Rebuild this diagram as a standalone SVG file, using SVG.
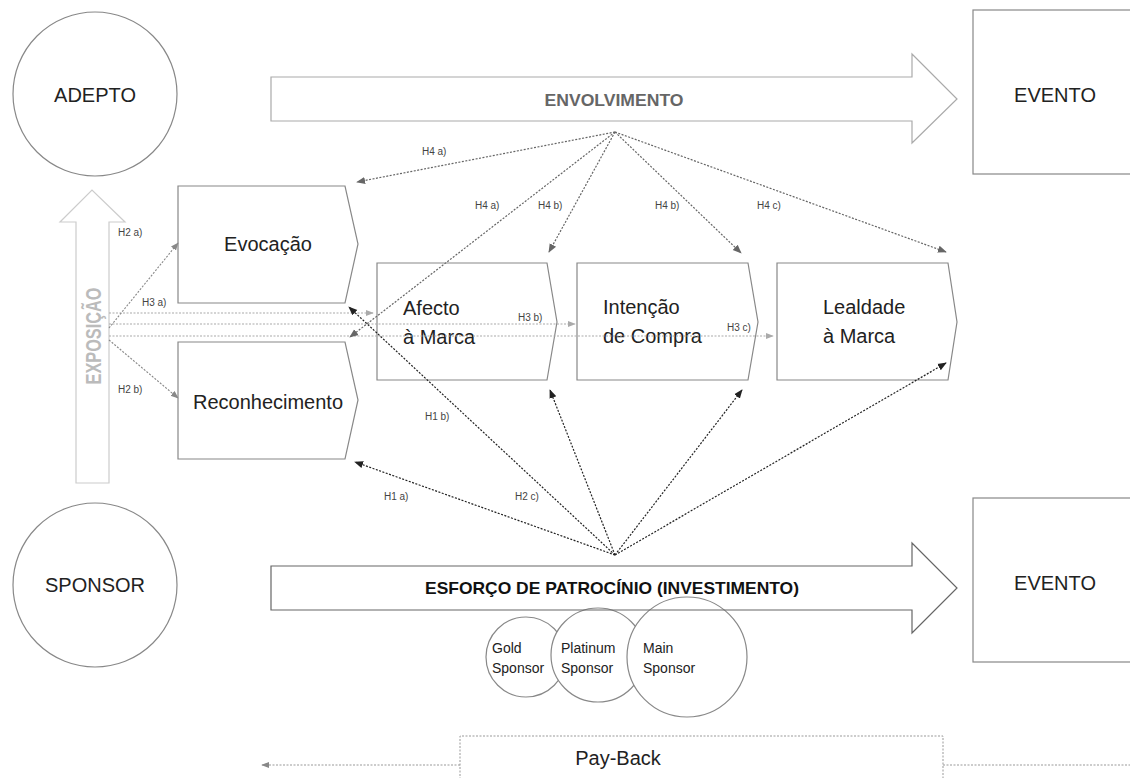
<svg xmlns="http://www.w3.org/2000/svg" width="1130" height="778" viewBox="0 0 1130 778">
<style>
text{font-family:"Liberation Sans",Arial,sans-serif;fill:#222}
.big{font-size:20px}
.lbl{font-size:10px;fill:#444}
.node{fill:#fff;stroke:#888;stroke-width:1.2}
.top{fill:none;stroke:#666;stroke-width:1.2;stroke-dasharray:2 1.5}
.bot{fill:none;stroke:#222;stroke-width:1.2;stroke-dasharray:2 1.5}
.exp{fill:none;stroke:#888;stroke-width:1.1;stroke-dasharray:2 1.5}
.h3{fill:none;stroke:#aaa;stroke-width:1.2;stroke-dasharray:2 1.5}
.pb{fill:none;stroke:#999;stroke-width:1;stroke-dasharray:2 1.5}
</style>
<defs>
<marker id="mTop" viewBox="0 0 10 10" refX="9" refY="5" markerWidth="9" markerHeight="9" markerUnits="userSpaceOnUse" orient="auto"><path d="M0,1 L10,5 L0,9 z" fill="#666"/></marker>
<marker id="mBot" viewBox="0 0 10 10" refX="9" refY="5" markerWidth="9" markerHeight="9" markerUnits="userSpaceOnUse" orient="auto"><path d="M0,1 L10,5 L0,9 z" fill="#222"/></marker>
<marker id="mExp" viewBox="0 0 10 10" refX="9" refY="5" markerWidth="8" markerHeight="8" markerUnits="userSpaceOnUse" orient="auto"><path d="M0,1 L10,5 L0,9 z" fill="#888"/></marker>
<marker id="mH3" viewBox="0 0 10 10" refX="9" refY="5" markerWidth="8" markerHeight="8" markerUnits="userSpaceOnUse" orient="auto"><path d="M0,1 L10,5 L0,9 z" fill="#aaa"/></marker>
</defs>

<g id="adepto"><circle class="node" cx="95" cy="94" r="82"/><text class="big" x="95" y="102" text-anchor="middle">ADEPTO</text></g>
<g id="sponsor"><circle class="node" cx="95" cy="585" r="82"/><text class="big" x="95" y="592" text-anchor="middle">SPONSOR</text></g>
<g id="evento-top"><rect class="node" x="973" y="10" width="170" height="164"/><text class="big" x="1055" y="102" text-anchor="middle">EVENTO</text></g>
<g id="evento-bot"><rect class="node" x="973" y="498" width="170" height="164"/><text class="big" x="1055" y="590" text-anchor="middle">EVENTO</text></g>

<g id="envolvimento"><path d="M271,77 H912 V54 L957,99 L912,143 V121 H271 Z" fill="#fff" stroke="#aaa" stroke-width="1.2"/><text x="614" y="106" text-anchor="middle" font-size="17" font-weight="bold" textLength="139" lengthAdjust="spacingAndGlyphs" style="fill:#666">ENVOLVIMENTO</text></g>
<g id="exposicao"><path d="M76,483 V222 H60 L92,190 L125,222 H109 V483 Z" fill="#fff" stroke="#ccc" stroke-width="1.2"/><text transform="translate(101,336) rotate(-90)" text-anchor="middle" font-size="22" font-weight="bold" textLength="97" lengthAdjust="spacingAndGlyphs" style="fill:#bbb">EXPOSIÇÃO</text></g>

<g id="evocacao"><path class="node" d="M178,186 H345 L358,244 L345,303 H178 Z"/><text class="big" x="268" y="251" text-anchor="middle">Evocação</text></g>
<g id="reconhecimento"><path class="node" d="M178,342 H345 L358,400 L345,459 H178 Z"/><text class="big" x="268" y="409" text-anchor="middle">Reconhecimento</text></g>
<g id="afecto"><path class="node" d="M377,263 H547 L557,322 L547,380 H377 Z"/><text class="big" x="403" y="315">Afecto</text><text class="big" x="403" y="344">à Marca</text></g>
<g id="intencao"><path class="node" d="M577,263 H748 L758,322 L748,380 H577 Z"/><text class="big" x="603" y="314">Intenção</text><text class="big" x="603" y="343">de Compra</text></g>
<g id="lealdade"><path class="node" d="M777,263 H948 L957,322 L948,380 H777 Z"/><text class="big" x="823" y="314">Lealdade</text><text class="big" x="823" y="343">à Marca</text></g>

<g id="tiers">
<circle class="node" cx="526" cy="657" r="40"/>
<circle class="node" cx="598" cy="655" r="47"/>
<circle class="node" cx="687" cy="657" r="60"/>
<text x="492" y="653" font-size="14">Gold</text><text x="492" y="673" font-size="14">Sponsor</text>
<text x="561" y="653" font-size="14">Platinum</text><text x="561" y="673" font-size="14">Sponsor</text>
<text x="643" y="653" font-size="14">Main</text><text x="643" y="673" font-size="14">Sponsor</text>
</g>
<g id="esforco"><path d="M271,566 H912 V543 L957,588 L912,633 V610 H271 Z" fill="none" stroke="#666" stroke-width="1.2"/><text x="612" y="594" text-anchor="middle" font-size="17" font-weight="bold" textLength="374" lengthAdjust="spacingAndGlyphs" style="fill:#111">ESFORÇO DE PATROCÍNIO (INVESTIMENTO)</text></g>

<g id="payback"><path class="pb" d="M460,790 V736 H943 V790"/><text class="big" x="618" y="765" text-anchor="middle">Pay-Back</text></g>

<g id="connectors">
<line class="h3" x1="109" y1="313" x2="373" y2="313" marker-end="url(#mH3)"/>
<line class="h3" x1="109" y1="324" x2="575" y2="324" marker-end="url(#mH3)"/>
<line class="h3" x1="109" y1="336" x2="773" y2="336" marker-end="url(#mH3)"/>
<line class="exp" x1="109" y1="328" x2="178" y2="243" marker-end="url(#mExp)"/>
<line class="exp" x1="109" y1="340" x2="178" y2="398" marker-end="url(#mExp)"/>

<line class="top" x1="615" y1="132" x2="357" y2="182" marker-end="url(#mTop)"/>
<line class="top" x1="615" y1="132" x2="350" y2="337" marker-end="url(#mTop)"/>
<line class="top" x1="615" y1="132" x2="549" y2="252" marker-end="url(#mTop)"/>
<line class="top" x1="615" y1="132" x2="741" y2="253" marker-end="url(#mTop)"/>
<line class="top" x1="615" y1="132" x2="946" y2="252" marker-end="url(#mTop)"/>

<line class="bot" x1="615" y1="555" x2="355" y2="462" marker-end="url(#mBot)"/>
<line class="bot" x1="615" y1="555" x2="349" y2="307" marker-end="url(#mBot)"/>
<line class="bot" x1="615" y1="555" x2="550" y2="390" marker-end="url(#mBot)"/>
<line class="bot" x1="615" y1="555" x2="742" y2="390" marker-end="url(#mBot)"/>
<line class="bot" x1="615" y1="555" x2="946" y2="363" marker-end="url(#mBot)"/>

<line class="pb" x1="460" y1="765" x2="262" y2="765" marker-end="url(#mExp)"/>
<line class="pb" x1="943" y1="765" x2="1130" y2="765"/>

<text class="lbl" x="422" y="155">H4 a)</text>
<text class="lbl" x="475" y="209">H4 a)</text>
<text class="lbl" x="538" y="209">H4 b)</text>
<text class="lbl" x="655" y="209">H4 b)</text>
<text class="lbl" x="757" y="209">H4 c)</text>
<text class="lbl" x="118" y="236">H2 a)</text>
<text class="lbl" x="142" y="306">H3 a)</text>
<text class="lbl" x="518" y="321">H3 b)</text>
<text class="lbl" x="727" y="331">H3 c)</text>
<text class="lbl" x="118" y="393">H2 b)</text>
<text class="lbl" x="425" y="420">H1 b)</text>
<text class="lbl" x="384" y="500">H1 a)</text>
<text class="lbl" x="515" y="500">H2 c)</text>
</g>
</svg>
